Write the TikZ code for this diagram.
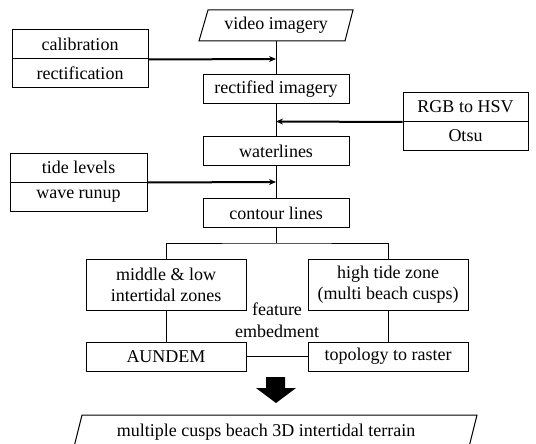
\documentclass[tikz,border=0pt]{standalone}
\usepackage{fontspec}
\setmainfont{Liberation Serif}
\usetikzlibrary{arrows.meta}
\begin{document}
\begin{tikzpicture}[x=1pt,y=-1pt,
  every node/.style={font=\fontsize{18}{21}\selectfont, inner sep=0pt},
  box/.style={draw, line width=1pt, minimum width=146pt, minimum height=29pt, align=center},
  sidebox/.style={draw, line width=1pt, minimum width=136pt, minimum height=29pt},
  zone/.style={draw, line width=1pt, minimum width=160pt, minimum height=51pt, align=center},
  lowbox/.style={draw, line width=1pt, minimum width=160pt, minimum height=29pt},
  link/.style={line width=1pt},
  feed/.style={line width=2pt, -{Stealth[length=7pt,width=6pt]}}]
\clip (0,0) rectangle (536,444);
% top parallelogram
\draw[line width=1pt] (208,10) -- (353,10) -- (345,41) -- (199,41) -- cycle;
\node (video) at (276,25.5) {video imagery};
\coordinate (vb) at (276,41);
\node[box] (rect) at (276,89.5) {rectified imagery};
\node[box] (water) at (276,151) {waterlines};
\node[box] (cont) at (276,213) {contour lines};
% side boxes
\node[sidebox] (calib) at (80,44.5) {calibration};
\node[sidebox] (rectif) at (80,73.5) {rectification};
\node[sidebox, minimum width=137pt] (tide) at (78.5,167.5) {tide levels};
\node[sidebox, minimum width=137pt] (runup) at (78.5,196.5) {wave runup};
\node[sidebox, minimum width=125pt] (rgb) at (465.5,107) {RGB to HSV};
\node[sidebox, minimum width=125pt] (otsu) at (465.5,136) {Otsu};
% main line
\draw[link] (vb) -- (rect.north);
\draw[link] (rect.south) -- (water.north);
\draw[link] (water.south) -- (cont.north);
\coordinate (m1) at (276,59);
\coordinate (m2) at (276,121.5);
\coordinate (m3) at (276,182);
\draw[feed] (calib.south east) -- (m1);
\draw[feed] (rgb.south west) -- (m2);
\draw[feed] (tide.south east) -- (m3);
% branches
\node[zone] (mid) at (166,284.5) {middle \& low\\intertidal zones};
\node[zone] (high) at (388,284.5) {high tide zone\\(multi beach cusps)};
\node[lowbox] (aun) at (166,356.5) {AUNDEM};
\node[lowbox] (topo) at (388,356.5) {topology to raster};
\coordinate (br) at (276,243);
\draw[link] (cont.south) -- (br);
\draw[link] (mid.north) |- (br) -| (high.north);
\draw[link] (mid.south) -- (aun.north);
\draw[link] (high.south) -- (topo.north);
\draw[link] (aun.east) -- (topo.west);
\node[align=center, font=\fontsize{18}{22}\selectfont] (feat) at (277,320) {feature\\embedment};
% block arrow
\fill (266,377) -- (285,377) -- (285,388) -- (296,388) -- (276,403) -- (256,388) -- (266,388) -- cycle;
% bottom parallelogram
\draw[line width=1pt] (82,415) -- (477,415) -- (469,447) -- (74,447) -- cycle;
\node (out) at (266,432) {multiple cusps beach 3D intertidal terrain};
\end{tikzpicture}
\end{document}
